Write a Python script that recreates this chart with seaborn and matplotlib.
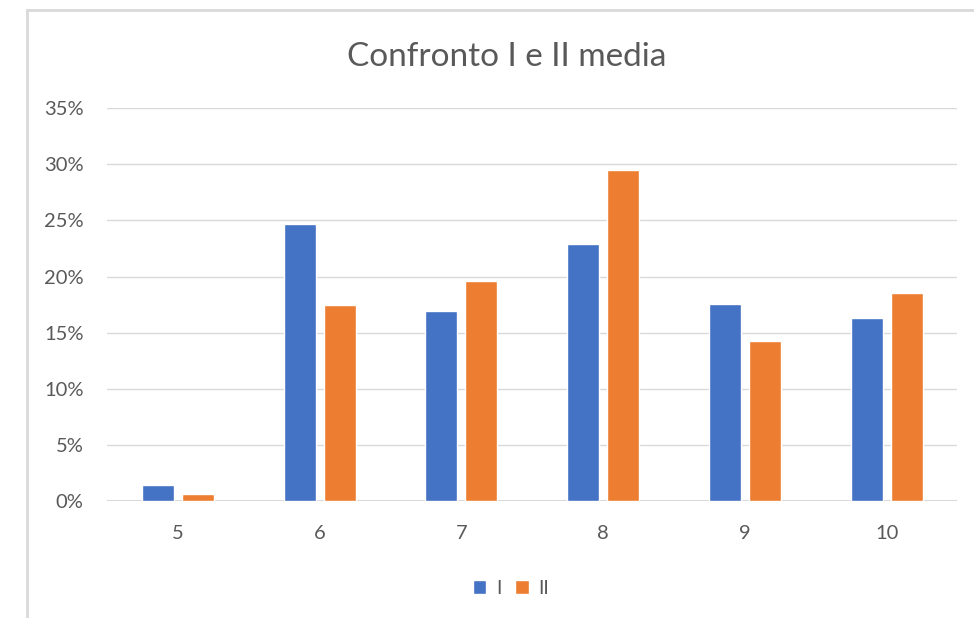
import seaborn as sns
import pandas as pd
import matplotlib.pyplot as plt
from matplotlib.lines import Line2D
from matplotlib.ticker import PercentFormatter

voti = ['5', '6', '7', '8', '9', '10']
media_1 = [0.014, 0.247, 0.169, 0.229, 0.176, 0.163]
media_2 = [0.006, 0.175, 0.196, 0.295, 0.143, 0.185]

df = pd.DataFrame({
    'voto': voti * 2,
    'serie': ['I'] * len(voti) + ['II'] * len(voti),
    'valore': media_1 + media_2,
})

sns.set_theme(style="white")
plt.rcParams['font.family'] = ['Lato', 'DejaVu Sans']
grey = '#595959'

fig = plt.figure(figsize=(9.74, 6.18), dpi=100)
ax = fig.add_axes([0.110, 0.189, 0.873, 0.636])

sns.barplot(data=df, x='voto', y='valore', hue='serie', order=voti,
            palette=['#4472C4', '#ED7D31'], width=0.565, gap=0.2,
            saturation=1, ax=ax, legend=True)

ax.set_ylim(0, 0.35)
ax.set_yticks([i * 0.05 for i in range(8)])
ax.yaxis.set_major_formatter(PercentFormatter(1.0, decimals=0))
ax.grid(axis='y', color='#d9d9d9', lw=1)
ax.set_axisbelow(True)
for s in ax.spines.values():
    s.set_visible(False)
ax.axhline(0, color='#d9d9d9', lw=1.5, zorder=0)
ax.set_xlabel('')
ax.set_ylabel('')
ax.tick_params(axis='y', length=0, pad=17, labelsize=14.5, labelcolor=grey)
ax.tick_params(axis='x', length=0, pad=17, labelsize=14.5, labelcolor=grey)

ax.set_title('Confronto I e II media', fontsize=24, color=grey, pad=30, x=0.47)

leg = ax.legend(loc='upper center', bbox_to_anchor=(0.475, -0.155), ncol=2,
                frameon=False, fontsize=14, handlelength=0.7, handleheight=0.7,
                handletextpad=0.5, columnspacing=0.7)
for t in leg.get_texts():
    t.set_color(grey)

# cornice grigia dello screenshot
fig.add_artist(Line2D([27 / 974, 27 / 974], [0, 1 - 10 / 618], color='#d9d9d9', lw=2))
fig.add_artist(Line2D([27 / 974, 1], [1 - 10 / 618, 1 - 10 / 618], color='#d9d9d9', lw=2))

plt.savefig('out.png', dpi=100)
